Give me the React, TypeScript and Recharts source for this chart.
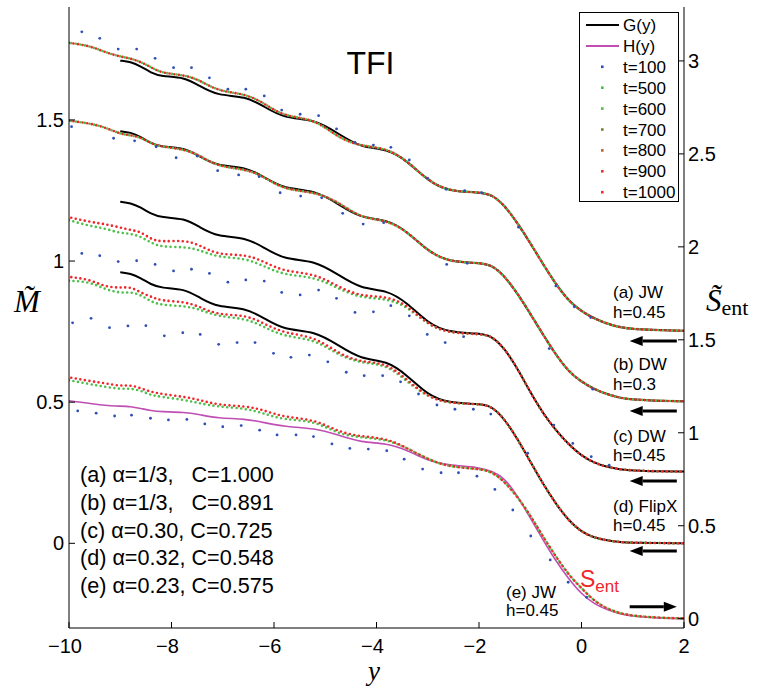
import React from "react";
import { ComposedChart, Line, Scatter, XAxis, YAxis, ReferenceLine } from "recharts";

// shared y grid for the curves and the late-time dots
const xs = [-10, -9.6, -9.3, -9.0, -8.8, -8.6, -8.4, -8.2, -7.75, -7.45, -7.1, -6.55, -6.2, -5.8, -5.2, -4.75, -4.3, -3.8, -3.4, -3.0, -2.6, -2.0, -1.75, -1.5, -1.25, -1.0, -0.75, -0.5, -0.25, 0, 0.25, 0.5, 0.75, 1.0, 1.5, 2.0];

// G(y) for panels (a)-(d), H(y) for (e)
const gA = [null, null, null, 1.710, 1.706, 1.690, 1.667, 1.654, 1.652, 1.620, 1.586, 1.584, 1.548, 1.505, 1.502, 1.452, 1.401, 1.398, 1.355, 1.285, 1.247, 1.244, 1.236, 1.197, 1.135, 1.064, 0.989, 0.918, 0.858, 0.822, 0.796, 0.778, 0.765, 0.759, 0.755, 0.753];
const gB = [null, null, null, 1.460, 1.456, 1.440, 1.417, 1.404, 1.402, 1.370, 1.336, 1.334, 1.298, 1.255, 1.252, 1.202, 1.151, 1.148, 1.105, 1.035, 0.997, 0.994, 0.986, 0.947, 0.885, 0.814, 0.739, 0.668, 0.608, 0.572, 0.546, 0.528, 0.515, 0.509, 0.505, 0.503];
const gC = [null, null, null, 1.210, 1.206, 1.190, 1.167, 1.154, 1.152, 1.120, 1.086, 1.084, 1.048, 1.005, 1.002, 0.952, 0.901, 0.898, 0.852, 0.780, 0.747, 0.744, 0.735, 0.690, 0.620, 0.535, 0.460, 0.400, 0.350, 0.310, 0.285, 0.270, 0.262, 0.258, 0.255, 0.254];
const gD = [null, null, null, 0.960, 0.956, 0.940, 0.917, 0.904, 0.902, 0.870, 0.836, 0.834, 0.798, 0.755, 0.752, 0.702, 0.651, 0.648, 0.595, 0.525, 0.497, 0.494, 0.486, 0.440, 0.370, 0.290, 0.210, 0.140, 0.080, 0.040, 0.020, 0.010, 0.004, 0.002, 0.001, 0.0];
const hE = [0.505, 0.496, 0.488, 0.486, 0.485, 0.478, 0.470, 0.466, 0.465, 0.456, 0.443, 0.441, 0.428, 0.413, 0.408, 0.384, 0.357, 0.355, 0.330, 0.292, 0.277, 0.270, 0.256, 0.231, 0.168, 0.090, 0.012, -0.063, -0.126, -0.180, -0.215, -0.236, -0.250, -0.259, -0.265, -0.266];

// late-time dots (t=900/1000 red, t=500/600 green)
const dotsA = [1.773, 1.763, 1.740, 1.724, 1.718, 1.705, 1.687, 1.666, 1.659, 1.641, 1.602, 1.592, 1.560, 1.511, 1.504, 1.436, 1.407, 1.400, 1.355, 1.285, 1.247, 1.244, 1.236, 1.197, 1.135, 1.064, 0.989, 0.918, 0.858, 0.822, 0.796, 0.778, 0.765, 0.759, 0.755, 0.753];
const dotsB = [1.497, 1.488, 1.474, 1.450, 1.446, 1.438, 1.417, 1.405, 1.396, 1.375, 1.334, 1.326, 1.299, 1.252, 1.245, 1.210, 1.151, 1.145, 1.105, 1.035, 0.997, 0.994, 0.986, 0.947, 0.885, 0.814, 0.739, 0.668, 0.608, 0.572, 0.546, 0.528, 0.515, 0.509, 0.505, 0.503];
const redC = [1.155, 1.139, 1.131, 1.119, 1.110, 1.104, 1.077, 1.068, 1.074, 1.057, 1.021, 1.024, 0.998, 0.962, 0.956, 0.909, 0.874, 0.876, 0.844, 0.775, 0.745, 0.742, 0.735, 0.690, 0.620, 0.535, 0.460, 0.400, 0.350, 0.310, 0.285, 0.270, 0.262, 0.258, 0.255, 0.254];
const greenC = [1.145, 1.124, 1.116, 1.098, 1.098, 1.086, 1.065, 1.049, 1.051, 1.039, 1.013, 1.010, 0.982, 0.950, 0.944, 0.903, 0.868, 0.868, 0.838, 0.775, 0.745, 0.742, 0.735, 0.690, 0.620, 0.535, 0.460, 0.400, 0.350, 0.310, 0.285, 0.270, 0.262, 0.258, 0.255, 0.254];
const redD = [0.944, 0.935, 0.909, 0.905, 0.909, 0.888, 0.874, 0.859, 0.856, 0.838, 0.809, 0.809, 0.779, 0.744, 0.732, 0.673, 0.641, 0.640, 0.578, 0.519, 0.496, 0.494, 0.486, 0.440, 0.370, 0.290, 0.210, 0.140, 0.080, 0.040, 0.020, 0.010, 0.004, 0.002, 0.001, 0.0];
const greenD = [0.930, 0.927, 0.900, 0.886, 0.891, 0.880, 0.856, 0.844, 0.841, 0.829, 0.803, 0.797, 0.767, 0.732, 0.723, 0.667, 0.638, 0.634, 0.572, 0.519, 0.496, 0.494, 0.486, 0.440, 0.370, 0.290, 0.210, 0.140, 0.080, 0.040, 0.020, 0.010, 0.004, 0.002, 0.001, 0.0];
const redE = [0.588, 0.575, 0.567, 0.557, 0.561, 0.549, 0.537, 0.529, 0.519, 0.508, 0.490, 0.486, 0.472, 0.446, 0.439, 0.395, 0.378, 0.372, 0.337, 0.298, 0.271, 0.264, 0.254, 0.218, 0.165, 0.100, 0.023, -0.047, -0.112, -0.159, -0.205, -0.232, -0.248, -0.257, -0.264, -0.266];
const greenE = [0.578, 0.564, 0.555, 0.546, 0.549, 0.541, 0.525, 0.519, 0.508, 0.496, 0.484, 0.478, 0.460, 0.437, 0.434, 0.387, 0.375, 0.368, 0.337, 0.298, 0.271, 0.264, 0.254, 0.218, 0.165, 0.100, 0.023, -0.047, -0.112, -0.159, -0.205, -0.232, -0.248, -0.257, -0.264, -0.266];

// t=100 dots, [y, M]
const blueA = [[-9.75, 1.812], [-9.40, 1.789], [-9.04, 1.751], [-8.68, 1.751], [-8.32, 1.718], [-7.96, 1.685], [-7.61, 1.685], [-7.26, 1.649], [-6.90, 1.609], [-6.55, 1.609], [-6.19, 1.585], [-5.85, 1.535], [-5.49, 1.520], [-5.13, 1.515], [-4.78, 1.468], [-4.42, 1.420], [-4.06, 1.411], [-3.72, 1.403], [-3.36, 1.358], [-3.00, 1.293], [-2.64, 1.254], [-2.28, 1.249], [-1.95, 1.242], [-1.23, 1.120], [-0.50, 0.912], [-0.14, 0.838], [0.18, 0.800]];
const blueB = [[-9.95, 1.476], [-9.13, 1.435], [-8.72, 1.426], [-8.30, 1.405], [-7.91, 1.366], [-7.50, 1.372], [-7.10, 1.320], [-6.69, 1.305], [-6.29, 1.299], [-5.88, 1.242], [-5.48, 1.230], [-5.07, 1.224], [-4.66, 1.169], [-4.26, 1.131], [-3.86, 1.136], [-2.63, 0.988], [-2.23, 0.992], [-0.63, 0.690], [0.22, 0.546]];
const blueC = [[-9.75, 1.027], [-9.40, 1.019], [-9.04, 0.998], [-8.68, 1.001], [-8.32, 0.988], [-7.96, 0.965], [-7.61, 0.971], [-7.26, 0.956], [-6.90, 0.925], [-6.55, 0.933], [-6.19, 0.929], [-5.85, 0.889], [-5.49, 0.880], [-5.13, 0.897], [-4.78, 0.868], [-4.42, 0.818], [-4.06, 0.820], [-3.72, 0.842], [-3.36, 0.806], [-3.01, 0.740], [-2.66, 0.711], [-2.30, 0.732], [-0.54, 0.419], [-0.17, 0.354], [0.19, 0.307], [0.54, 0.277]];
const blueD = [[-9.93, 0.781], [-9.57, 0.797], [-9.21, 0.764], [-8.85, 0.770], [-8.50, 0.771], [-8.14, 0.735], [-7.78, 0.746], [-7.44, 0.740], [-7.08, 0.705], [-6.72, 0.711], [-6.37, 0.711], [-6.01, 0.673], [-5.67, 0.659], [-5.31, 0.667], [-4.95, 0.643], [-4.59, 0.606], [-4.24, 0.594], [-3.88, 0.594], [-3.53, 0.572], [-3.18, 0.529], [-2.82, 0.490], [-2.47, 0.475], [-2.11, 0.475], [-1.77, 0.458], [-1.05, 0.319]];
const blueE = [[-9.83, 0.469], [-9.47, 0.461], [-9.11, 0.451], [-8.78, 0.454], [-8.41, 0.443], [-8.06, 0.437], [-7.70, 0.439], [-7.35, 0.423], [-7.00, 0.413], [-6.64, 0.417], [-6.28, 0.401], [-5.94, 0.384], [-5.57, 0.384], [-5.23, 0.378], [-4.87, 0.352], [-4.52, 0.336], [-4.16, 0.334], [-3.80, 0.328], [-3.46, 0.298], [-3.10, 0.263], [-2.74, 0.250], [-2.40, 0.250], [-2.04, 0.238], [-1.69, 0.191], [-1.34, 0.118], [-0.99, 0.026], [-0.61, -0.059], [-0.26, -0.138], [0.10, -0.191]];

// asymptote arrows: M level, direction
const arrowLevels = [0.717, 0.469, 0.221, -0.027, -0.225];
const arrowPointsRight = [false, false, false, false, true];

const xTicks = [-10, -8, -6, -4, -2, 0, 2];
const mTicks = [0, 0.5, 1, 1.5];
const sTicks = [0, 0.5, 1, 1.5, 2, 2.5, 3];

const paramLines = [
  "(a) \u03b1=1/3,   C=1.000",
  "(b) \u03b1=1/3,   C=0.891",
  "(c) \u03b1=0.30, C=0.725",
  "(d) \u03b1=0.32, C=0.548",
  "(e) \u03b1=0.23, C=0.575",
];

const legendItems = [
  { label: "G(y)", color: "#000000", kind: "line" },
  { label: "H(y)", color: "#c04fb4", kind: "line" },
  { label: "t=100", color: "#2f4fb5", kind: "dot" },
  { label: "t=500", color: "#3fc23f", kind: "dot" },
  { label: "t=600", color: "#5cb84a", kind: "dot" },
  { label: "t=700", color: "#7d7d2e", kind: "dot" },
  { label: "t=800", color: "#b8652a", kind: "dot" },
  { label: "t=900", color: "#e3362b", kind: "dot" },
  { label: "t=1000", color: "#ff2a2a", kind: "dot" },
];

const SANS = "'Liberation Sans', Arial, Helvetica, sans-serif";
const SERIF = "'Liberation Serif', 'Times New Roman', serif";
const RED = "#f0262a";
const GREEN = "#4cc04a";
const BLUE = "#2f4fb5";

const rows = xs.map((x, i) => ({
  x,
  gA: gA[i], gB: gB[i], gC: gC[i], gD: gD[i], hE: hE[i],
  dA: dotsA[i], dB: dotsB[i],
  rC: redC[i], gnC: greenC[i],
  rD: redD[i], gnD: greenD[i],
  rE: redE[i], gnE: greenE[i],
}));

const blueDots = [...blueA, ...blueB, ...blueC, ...blueD, ...blueE].map(([x, y]) => ({ x, y }));

const fmtX = (v: number) => (v < 0 ? "\u2212" + Math.abs(v) : String(v));

const LeftTick = (p: any) => (
  <g>
    <line x1={p.x + 5} x2={p.x + 11} y1={p.y} y2={p.y} stroke="#000" />
    <text x={p.x} y={p.y} dy={7} textAnchor="end" fontSize={20} fontFamily={SANS} fill="#000">
      {String(p.payload.value)}
    </text>
  </g>
);

const RightTick = (p: any) => (
  <g>
    <line x1={p.x - 4} x2={p.x - 10} y1={p.y} y2={p.y} stroke="#000" />
    <text x={p.x} y={p.y} dy={7} textAnchor="start" fontSize={20} fontFamily={SANS} fill="#000">
      {String(p.payload.value)}
    </text>
  </g>
);

const BottomTick = (p: any) => (
  <g>
    <line x1={p.x} x2={p.x} y1={p.y - 4} y2={p.y - 10} stroke="#000" />
    <text x={p.x} y={p.y} dy={20.5} dx={p.payload.value < 0 ? -4 : 0} textAnchor="middle" fontSize={20} fontFamily={SANS} fill="#000">
      {fmtX(p.payload.value)}
    </text>
  </g>
);

const ArrowShape = (p: any) => {
  const { x1, y1, x2, y2 } = p;
  const dir = x2 > x1 ? 1 : -1;
  const baseX = x2 - dir * 13;
  return (
    <g>
      <line x1={x1} y1={y1} x2={baseX} y2={y2} stroke="#000" strokeWidth={3} />
      <polygon points={`${x2},${y2} ${baseX},${y2 - 5} ${baseX},${y2 + 5}`} fill="#000" />
    </g>
  );
};

const SmallDot = (p: any) => <circle cx={p.cx} cy={p.cy} r={1.4} fill={BLUE} />;

const smooth = { dot: false, isAnimationActive: false, type: "basis" as const, yAxisId: "left" };
const dotted = { ...smooth, strokeWidth: 2.6, strokeLinecap: "round" as const };

export default function App() {
  return (
    <div style={{ position: "absolute", left: 0, top: 0, width: 761, height: 687, background: "#fff" }}>
      <ComposedChart width={761} height={687} data={rows} margin={{ top: 7, right: 17, bottom: 19, left: 9 }}>
        <XAxis
          type="number"
          dataKey="x"
          domain={[-10, 2]}
          ticks={xTicks}
          allowDataOverflow
          height={40}
          tickLine={false}
          tickSize={0}
          tickMargin={4}
          stroke="#000"
          tick={BottomTick}
        />
        <YAxis
          yAxisId="left"
          type="number"
          domain={[-0.3, 1.9]}
          ticks={mTicks}
          allowDataOverflow
          width={60}
          tickLine={false}
          tickSize={0}
          tickMargin={5}
          stroke="#000"
          tick={LeftTick}
        />
        <YAxis
          yAxisId="right"
          orientation="right"
          type="number"
          domain={[-0.05, 3.29]}
          ticks={sTicks}
          allowDataOverflow
          width={60}
          tickLine={false}
          tickSize={0}
          tickMargin={4}
          stroke="#000"
          tick={RightTick}
        />

        <Line {...smooth} dataKey="gA" stroke="#000" strokeWidth={2} />
        <Line {...smooth} dataKey="gB" stroke="#000" strokeWidth={2} />
        <Line {...smooth} dataKey="gC" stroke="#000" strokeWidth={2} />
        <Line {...smooth} dataKey="gD" stroke="#000" strokeWidth={2} />
        <Line {...smooth} dataKey="hE" stroke="#c04fb4" strokeWidth={1.6} />

        <Scatter yAxisId="left" data={blueDots} dataKey="y" shape={SmallDot} isAnimationActive={false} />

        <Line {...dotted} dataKey="dA" stroke={GREEN} strokeDasharray="0 4.6" strokeDashoffset={2.3} />
        <Line {...dotted} dataKey="dA" stroke={RED} strokeDasharray="0 4.6" />
        <Line {...dotted} dataKey="dB" stroke={GREEN} strokeDasharray="0 4.6" strokeDashoffset={2.3} />
        <Line {...dotted} dataKey="dB" stroke={RED} strokeDasharray="0 4.6" />
        <Line {...dotted} dataKey="gnC" stroke={GREEN} strokeDasharray="0 4.6" />
        <Line {...dotted} dataKey="rC" stroke={RED} strokeDasharray="0 4.6" strokeDashoffset={2.3} />
        <Line {...dotted} dataKey="gnD" stroke={GREEN} strokeDasharray="0 4.6" />
        <Line {...dotted} dataKey="rD" stroke={RED} strokeDasharray="0 4.6" strokeDashoffset={2.3} />
        <Line {...dotted} dataKey="gnE" stroke={GREEN} strokeDasharray="0 4.6" />
        <Line {...dotted} dataKey="rE" stroke={RED} strokeDasharray="0 4.6" strokeDashoffset={2.3} />

        {arrowLevels.map((m, i) => (
          <ReferenceLine
            key={i}
            yAxisId="left"
            segment={arrowPointsRight[i] ? [{ x: 0.94, y: m }, { x: 1.86, y: m }] : [{ x: 1.86, y: m }, { x: 0.94, y: m }]}
            shape={ArrowShape}
          />
        ))}
      </ComposedChart>

      <svg width={761} height={687} style={{ position: "absolute", left: 0, top: 0, pointerEvents: "none" }}>
        <text x={370.5} y={74} textAnchor="middle" fontSize={32} fontFamily={SANS}>TFI</text>

        {paramLines.map((t, i) => (
          <text key={t} x={80} y={482 + i * 27.8} fontSize={21.6} fontFamily={SANS} style={{ whiteSpace: "pre" }}>{t}</text>
        ))}

        <g fontFamily={SANS} fontSize={17} fill="#000">
          <text x={613} y={298}>(a) JW</text>
          <text x={613} y={318}>h=0.45</text>
          <text x={613} y={370}>(b) DW</text>
          <text x={613} y={390}>h=0.3</text>
          <text x={613} y={441.5}>(c) DW</text>
          <text x={613} y={460.5}>h=0.45</text>
          <text x={613} y={512}>(d) FlipX</text>
          <text x={613} y={530.5}>h=0.45</text>
          <text x={506} y={598}>(e) JW</text>
          <text x={506} y={616}>h=0.45</text>
        </g>
        <text x={580} y={587} fontSize={23} fontFamily={SANS} fill={RED}>
          S<tspan fontSize={17} dy={5}>ent</tspan>
        </text>

        <text x={27} y={312} textAnchor="middle" fontSize={31} fontFamily={SERIF} fontStyle="italic">M{"\u0303"}</text>
        <text x={374} y={680} textAnchor="middle" fontSize={27} fontFamily={SERIF} fontStyle="italic">y</text>
        <text x={706} y={311} fontSize={31} fontFamily={SERIF}>
          <tspan fontStyle="italic">S{"\u0303"}</tspan>
          <tspan fontSize={22} dy={4}>ent</tspan>
        </text>

        <rect x={579.5} y={12.5} width={99} height={189} fill="#fff" stroke="#000" strokeWidth={1} />
        {legendItems.map((it, i) => {
          const cy = 25 + i * 20.9;
          return (
            <g key={it.label}>
              {it.kind === "line" ? (
                <line x1={586} x2={619} y1={cy} y2={cy} stroke={it.color} strokeWidth={2} />
              ) : (
                <rect x={601} y={cy - 1.3} width={2.6} height={2.6} fill={it.color} />
              )}
              <text x={623} y={cy + 6} fontSize={17} fontFamily={SANS}>{it.label}</text>
            </g>
          );
        })}
      </svg>
    </div>
  );
}
